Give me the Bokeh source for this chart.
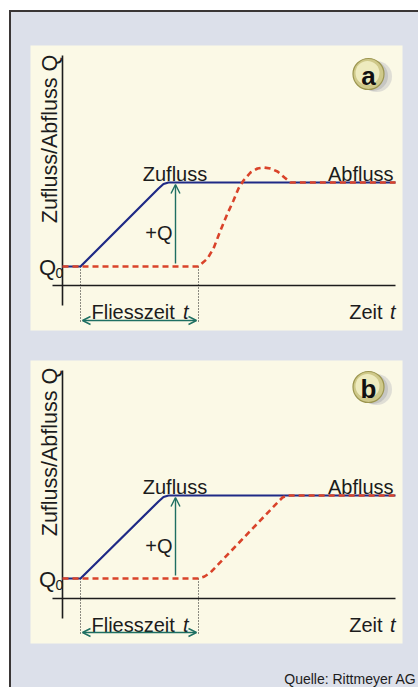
import math
from bokeh.plotting import figure
from bokeh.models import Arrow, OpenHead, Title
from bokeh.layouts import column
from bokeh.core.properties import value
from bokeh.embed import file_html
from bokeh.resources import INLINE

# ---------------- data (time in arbitrary units, flow in arbitrary units) ----------------
Q0_A = 1.9
QMAX_A = 10.3
Q0_B = 2.0
QMAX_B = 10.3

# Zufluss (inflow) panel a
ZU_T_A = [0.0, 1.8, 9.6, 10.1, 10.6, 33.3]
ZU_Q_A = [1.9, 1.9, 9.7, 10.15, 10.3, 10.3]
# Abfluss (outflow) panel a  (with overshoot)
AB_T_A = [0.0, 13.6, 14.5, 15.1, 15.8, 16.5, 17.1, 17.6, 18.1, 18.8, 19.5, 20.1,
          20.8, 21.5, 22.2, 22.8, 33.3]
AB_Q_A = [1.9, 1.9, 2.7, 3.7, 5.5, 7.2, 8.5, 9.7, 10.5, 11.3, 11.7, 11.8,
          11.7, 11.4, 10.8, 10.3, 10.3]

# Zufluss panel b
ZU_T_B = [0.0, 1.8, 9.6, 10.1, 10.6, 33.3]
ZU_Q_B = [2.0, 2.0, 9.7, 10.15, 10.3, 10.3]
# Abfluss panel b (no overshoot)
AB_T_B = [0.0, 13.6, 14.2, 14.8, 21.5, 22.0, 22.5, 33.3]
AB_Q_B = [2.0, 2.0, 2.2, 2.6, 9.6, 10.1, 10.3, 10.3]

FLOW_TIME = [1.8, 13.6]      # Fliesszeit start / end
ARROW_T = 11.3               # position of +Q arrow

BLUE = "#1f2a86"
RED = "#d9432a"
TEAL = "#1e6f62"
INK = "#1c1c1c"
CREAM = "#fbf9e6"
BGRAY = "#dce0ea"
FONT = value("Liberation Sans")


def panel(height, top, bottom, yr, zu_t, zu_q, ab_t, ab_q, q0, qmax, letter,
          dot_bottom, arr_y, quelle=False):
    p = figure(width=407, height=height, x_range=(-3.2, 34.0), y_range=yr,
               min_border_left=19, min_border_right=16, min_border_top=top,
               min_border_bottom=bottom, x_axis_location=None, y_axis_location=None,
               toolbar_location=None, output_backend="svg",
               background_fill_color=CREAM, border_fill_color=BGRAY,
               outline_line_color=None)
    p.grid.visible = False

    # axes (cross)
    p.segment(x0=[-1.0, 0.0], y0=[0.0, -2.0], x1=[33.3, 0.0], y1=[0.0, yr[1] - 1.0],
              line_color=INK, line_width=1.6)

    # dotted guide lines
    p.segment(x0=FLOW_TIME, y0=[q0, q0], x1=FLOW_TIME, y1=[dot_bottom, dot_bottom],
              line_color=INK, line_width=1, line_dash="1 2")

    # curves
    p.line(zu_t, zu_q, line_color=BLUE, line_width=2.2)
    p.line(ab_t, ab_q, line_color=RED, line_width=2.6, line_dash="6 4")

    # +Q arrow
    p.add_layout(Arrow(end=OpenHead(size=9, line_color=TEAL, line_width=1.4),
                       x_start=ARROW_T, y_start=q0 + 0.3, x_end=ARROW_T, y_end=qmax - 0.2,
                       line_color=TEAL, line_width=1.4))
    # Fliesszeit double arrow
    p.add_layout(Arrow(start=OpenHead(size=8, line_color=TEAL, line_width=1.4),
                       end=OpenHead(size=8, line_color=TEAL, line_width=1.4),
                       x_start=FLOW_TIME[0] + 0.2, y_start=arr_y,
                       x_end=FLOW_TIME[1] - 0.2, y_end=arr_y,
                       line_color=TEAL, line_width=1.4))

    # texts
    p.text(x=[-1.3], y=[14.65], text=["Zufluss/Abfluss Q"], angle=math.pi / 2,
           text_align="center", text_baseline="middle", text_font=FONT,
           text_font_size=value("21.5px"), text_color=INK)
    p.text(x=[-0.65], y=[q0 - 0.1], text=["Q"], text_align="right",
           text_baseline="alphabetic", text_font=FONT, text_font_size=value("22px"),
           text_color=INK)
    p.text(x=[-0.7], y=[q0 - 0.65], text=["0"], text_align="left",
           text_baseline="alphabetic", text_font=FONT, text_font_size=value("14px"),
           text_color=INK)
    p.text(x=[11.25], y=[qmax + 0.9], text=["Zufluss"], text_align="center",
           text_baseline="alphabetic", text_font=FONT, text_font_size=value("20px"),
           text_color=INK)
    p.text(x=[33.1], y=[qmax + 0.9], text=["Abfluss"], text_align="right",
           text_baseline="alphabetic", text_font=FONT, text_font_size=value("20px"),
           text_color=INK)
    p.text(x=[11.0], y=[5.3], text=["+Q"], text_align="right",
           text_baseline="alphabetic", text_font=FONT, text_font_size=value("20px"),
           text_color=INK)
    p.text(x=[2.9], y=[-2.6], text=["Fliesszeit"], text_align="left",
           text_baseline="alphabetic", text_font=FONT, text_font_size=value("20px"),
           text_color=INK)
    p.text(x=[12.6], y=[-2.6], text=["t"], text_align="right",
           text_baseline="alphabetic", text_font=FONT, text_font_size=value("20px"),
           text_font_style="italic", text_color=INK)
    p.text(x=[32.0], y=[-2.6], text=["Zeit"], text_align="right",
           text_baseline="alphabetic", text_font=FONT, text_font_size=value("20px"),
           text_color=INK)
    p.text(x=[33.3], y=[-2.6], text=["t"], text_align="right",
           text_baseline="alphabetic", text_font=FONT, text_font_size=value("20px"),
           text_font_style="italic", text_color=INK)

    # badge
    bx, by = 30.6, 21.15
    p.scatter(x=[bx + 0.8], y=[by - 0.25], size=31, fill_color="#bdbdc2",
              fill_alpha=0.45, line_color=None)
    p.scatter(x=[bx + 0.45], y=[by - 0.2], size=30, fill_color="#a9a9ae",
              fill_alpha=0.45, line_color=None)
    p.scatter(x=[bx], y=[by], size=31, fill_color="#cfc98a", line_color="#9c9650",
              line_width=1.2)
    p.scatter(x=[bx - 0.1], y=[by + 0.1], size=24, fill_color="#f1eec4",
              fill_alpha=0.9, line_color=None)
    p.text(x=[bx], y=[by - 0.15], text=[letter], text_align="center",
           text_baseline="middle", text_font=FONT, text_font_size=value("26px"),
           text_font_style="bold", text_color="#111111")

    if quelle:
        # spacer title (blank) keeps the source note near the bottom edge
        p.add_layout(Title(text=" ", text_font_size="20px", standoff=0), "below")
        p.add_layout(Title(text="Quelle: Rittmeyer AG", align="right",
                           text_font="Liberation Sans", text_font_size="14px",
                           text_font_style="normal", text_color=INK,
                           standoff=2, offset=-14), "below")
    return p


pa = panel(333, 33, 15, (-4.5, 24.0), ZU_T_A, ZU_Q_A, AB_T_A, AB_Q_A, Q0_A, QMAX_A,
           "a", -3.7, -3.5)
pb = panel(342, 15, 44, (-4.5, 23.8), ZU_T_B, ZU_Q_B, AB_T_B, AB_Q_B, Q0_B, QMAX_B,
           "b", -3.5, -3.4, quelle=True)

layout = column(pa, pb, spacing=0, margin=(10, 0, 0, 9),
                styles={"border-left": "2px solid #3a3636",
                        "border-top": "2px solid #3a3636",
                        "background-color": BGRAY})

open("out.html", "w").write(file_html(layout, INLINE))
